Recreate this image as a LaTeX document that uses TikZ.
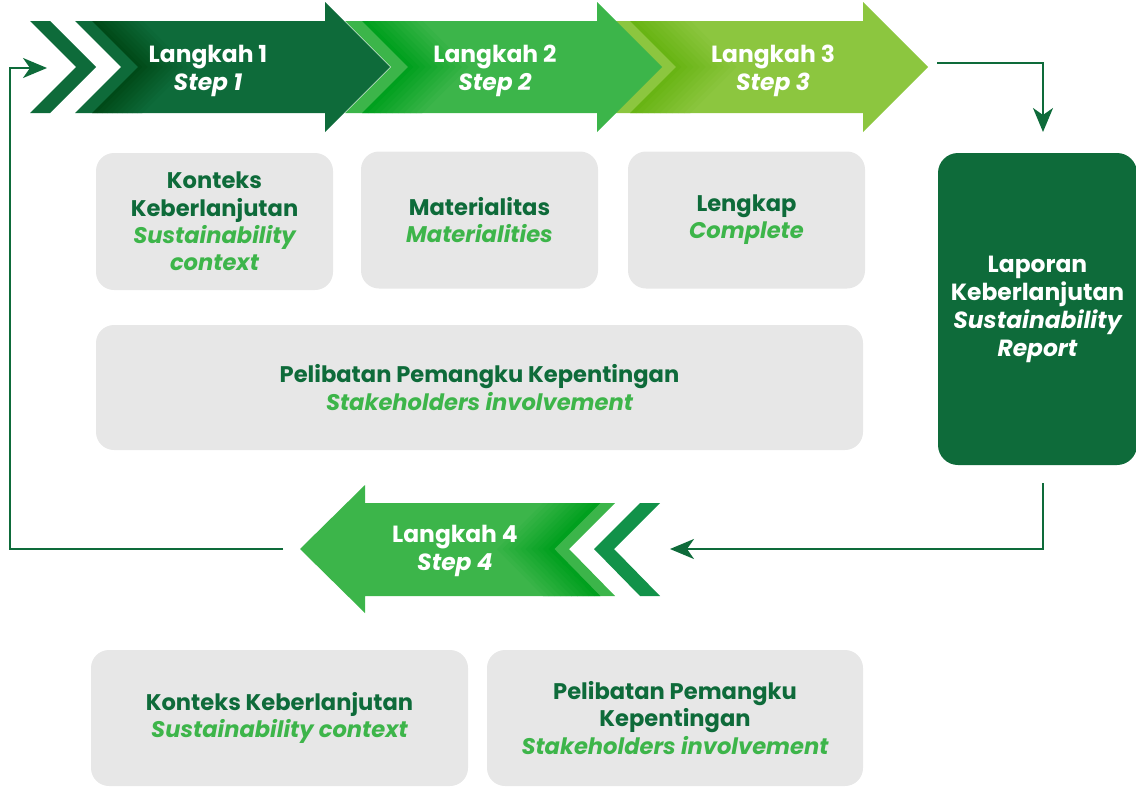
\documentclass[tikz,border=0pt]{standalone}
\usepackage{fontspec}
\setmainfont{Poppins}
\usetikzlibrary{arrows.meta}

\definecolor{dkgreen}{HTML}{0E6B3A}
\definecolor{ltgreen}{HTML}{3DB54A}
\definecolor{midgreen}{HTML}{3CB54A}
\definecolor{limegreen}{HTML}{8CC63F}
\definecolor{chevgreen}{HTML}{129249}
\definecolor{stripeA}{HTML}{004A18}
\definecolor{stripeB}{HTML}{00A01E}
\definecolor{stripeC}{HTML}{68B414}
\definecolor{boxgray}{HTML}{E7E7E7}

\newcommand{\en}[1]{{\color{ltgreen}\itshape #1}}

\begin{document}
\begin{tikzpicture}[x=0.5pt, y=-0.5pt,
    txt/.style={align=center, font=\fontsize{11.3}{13.6}\selectfont\bfseries},
    bigtxt/.style={align=center, font=\fontsize{11.7}{14}\selectfont\bfseries},
    gbox/.style={txt, fill=boxgray, rounded corners=9pt, text=dkgreen},
    steptxt/.style={bigtxt, text=white},
    conn/.style={draw=dkgreen, line width=1pt, -{Stealth[length=12pt, width=10pt, inset=3.5pt]}}]
  \useasboundingbox (0,0) rectangle (1136,787);

  % 上の矢印
  \fill[limegreen] (615,21) -- (863,21) -- (863,2) -- (928,67) -- (863,132) -- (863,113) -- (615,113) -- (661,67) -- cycle;
  \foreach \k in {0,...,9} {
    \pgfmathsetmacro{\xa}{630+\k*6}
    \pgfmathtruncatemacro{\pc}{100-\k*10}
    \fill[stripeC!\pc!limegreen] (\xa,21) -- ++(6.3,0) -- ++(46,46) -- ++(-46,46) -- ++(-6.3,0) -- ++(46,-46) -- cycle;
  }
  \fill[midgreen] (345,21) -- (597,21) -- (597,2) -- (662,67) -- (597,132) -- (597,113) -- (345,113) -- (391,67) -- cycle;
  \foreach \k in {0,...,9} {
    \pgfmathsetmacro{\xa}{362+\k*6}
    \pgfmathtruncatemacro{\pc}{100-\k*10}
    \fill[stripeB!\pc!midgreen] (\xa,21) -- ++(6.3,0) -- ++(46,46) -- ++(-46,46) -- ++(-6.3,0) -- ++(46,-46) -- cycle;
  }
  \fill[dkgreen] (75,21) -- (325,21) -- (325,2) -- (390,67) -- (325,132) -- (325,113) -- (75,113) -- (121,67) -- cycle;
  \foreach \k in {0,...,9} {
    \pgfmathsetmacro{\xa}{92+\k*5}
    \pgfmathtruncatemacro{\pc}{100-\k*10}
    \fill[stripeA!\pc!dkgreen] (\xa,21) -- ++(5.3,0) -- ++(46,46) -- ++(-46,46) -- ++(-5.3,0) -- ++(46,-46) -- cycle;
  }
  \fill[dkgreen] (30,21) -- (50,21) -- (96,67) -- (50,113) -- (30,113) -- (76,67) -- cycle;

  % 下の矢印
  \fill[midgreen] (300,549) -- (365,485) -- (365,503) -- (615,503) -- (569,549) -- (615,596) -- (365,596) -- (365,613) -- cycle;
  \foreach \k in {0,...,9} {
    \pgfmathsetmacro{\xa}{543+\k*5.7}
    \pgfmathtruncatemacro{\pc}{\k*10+10}
    \fill[stripeB!\pc!midgreen] (\xa,503) -- ++(6,0) -- ++(-46,46) -- ++(46,47) -- ++(-6,0) -- ++(-46,-47) -- cycle;
  }
  \fill[chevgreen] (640,503) -- (660,503) -- (614,549) -- (660,596) -- (640,596) -- (594,549) -- cycle;

  % ステップのラベル
  \node[steptxt] (s1) at (208,71) {Langkah 1\\\itshape Step 1};
  \node[steptxt] (s2) at (495,71) {Langkah 2\\\itshape Step 2};
  \node[steptxt] (s3) at (773,71) {Langkah 3\\\itshape Step 3};
  \node[steptxt] (s4) at (455,551) {Langkah 4\\\itshape Step 4};

  % ボックス
  \node[gbox, minimum width=118.5pt, minimum height=68.5pt] (konteks) at (214.5,221.5) {Konteks\\Keberlanjutan\\\en{Sustainability}\\\en{context}};
  \node[gbox, minimum width=118.5pt, minimum height=68.5pt] (materi) at (479.5,220) {Materialitas\\\en{Materialities}};
  \node[gbox, minimum width=118.5pt, minimum height=68.5pt] (lengkap) at (746.5,220) {Lengkap\\\en{Complete}};
  \node[gbox, minimum width=383.5pt, minimum height=62.5pt] (pelibatan) at (479.5,387.5) {Pelibatan Pemangku Kepentingan\\\en{Stakeholders involvement}};
  \node[gbox, minimum width=188.5pt, minimum height=68pt] (konteksB) at (279.5,718) {Konteks Keberlanjutan\\\en{Sustainability context}};
  \node[gbox, minimum width=188pt, minimum height=68pt] (pelibatanB) at (675,718) {Pelibatan Pemangku\\Kepentingan\\\en{Stakeholders involvement}};
  \node[bigtxt, fill=dkgreen, text=white, rounded corners=10pt, minimum width=99.5pt, minimum height=156pt] (report) at (1037.5,309) {Laporan\\Keberlanjutan\\\itshape Sustainability\\\itshape Report};

  % 接続線
  \coordinate (a3out) at (937,63);
  \coordinate (rin) at (1043,132);
  \coordinate (rout) at (1043,483);
  \coordinate (a4in) at (670,549);
  \coordinate (a4out) at (283,549);
  \coordinate (loopc) at (10,68);
  \coordinate (a1in) at (47,68);
  \draw[conn] (a3out) -| (rin);
  \draw[conn] (rout) |- (a4in);
  \draw[conn] (a4out) -| (loopc) -- (a1in);
\end{tikzpicture}
\end{document}
